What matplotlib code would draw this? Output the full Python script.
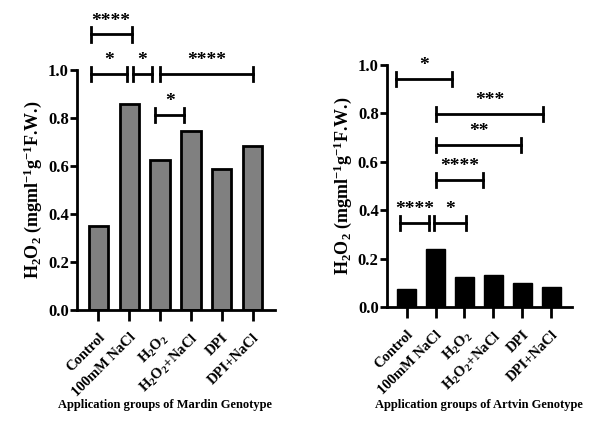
import matplotlib
matplotlib.use('Agg')
import matplotlib.pyplot as plt

plt.rcParams['font.family'] = ['Liberation Serif', 'DejaVu Serif']
plt.rcParams['font.weight'] = 'bold'
plt.rcParams['mathtext.fontset'] = 'custom'
plt.rcParams['mathtext.rm'] = 'Liberation Serif:bold'
plt.rcParams['mathtext.bf'] = 'Liberation Serif:bold'
plt.rcParams['mathtext.it'] = 'Liberation Serif:bold'

# Data
groups = ['Control', '100mM NaCl', r'H$_2$O$_2$', r'H$_2$O$_2$+NaCl', 'DPI', 'DPI+NaCl']
mardin = [0.35, 0.858, 0.625, 0.747, 0.586, 0.685]
artvin = [0.074, 0.240, 0.126, 0.132, 0.100, 0.083]

# significance brackets: (x start, x end, height, label)
mardin_sig = [(-0.24, 1.08, 1.149, '****'),
              (-0.24, 0.93, 0.983, '*'),
              (1.14, 1.73, 0.983, '*'),
              (2.0, 5.01, 0.983, '****'),
              (1.84, 2.78, 0.8125, '*')]
artvin_sig = [(-0.37, 1.58, 0.941, '*'),
              (1.02, 4.72, 0.798, '***'),
              (1.02, 3.96, 0.67, '**'),
              (1.02, 2.64, 0.525, '****'),
              (-0.23, 0.78, 0.347, '****'),
              (0.96, 2.06, 0.347, '*')]

ylabel = r'$\mathbf{H_2O_2}$ (mgml$^{-1}$g$^{-1}$F.W.)'

fig = plt.figure(figsize=(5.89, 4.30), dpi=100)
ax1 = fig.add_axes([0.131, 0.279, 0.336, 0.558])
ax2 = fig.add_axes([0.657, 0.2854, 0.314, 0.5636])


def style_axis(ax):
    ax.set_xlim(-0.68, 5.72)
    ax.set_ylim(0, 1.0)
    ax.set_yticks([0, 0.2, 0.4, 0.6, 0.8, 1.0])
    ax.set_yticklabels(['0.0', '0.2', '0.4', '0.6', '0.8', '1.0'])
    ax.set_xticks(range(len(groups)))
    ax.set_xticklabels(groups, rotation=45, ha='right', rotation_mode='anchor')
    for s in ['top', 'right']:
        ax.spines[s].set_visible(False)
    for s in ['left', 'bottom']:
        ax.spines[s].set_linewidth(2)
    ax.tick_params(axis='y', length=5, width=2, labelsize=12, pad=1)
    ax.tick_params(axis='x', length=8, width=2, labelsize=10.5, pad=7)
    ax.set_ylabel(ylabel, fontsize=13, fontweight='bold', labelpad=3)


def brackets(ax, sig):
    for x0, x1, h, lab in sig:
        ax.plot([x0, x1], [h, h], color='black', lw=2, clip_on=False)
        ax.plot([x0, x0], [h - 0.03, h + 0.03], color='black', lw=2, clip_on=False)
        ax.plot([x1, x1], [h - 0.03, h + 0.03], color='black', lw=2, clip_on=False)
        ax.text((x0 + x1) / 2, h + 0.02, lab, ha='center', va='bottom',
                fontsize=14, fontweight='bold', clip_on=False)


x = range(len(groups))
ax1.bar(x, mardin, width=0.62, color='#808080', edgecolor='black', linewidth=2)
style_axis(ax1)
brackets(ax1, mardin_sig)

ax2.bar(x, artvin, width=0.65, color='black', edgecolor='black', linewidth=1)
style_axis(ax2)
brackets(ax2, artvin_sig)

fig.text(0.28, 0.058, 'Application groups of Mardin Genotype', ha='center', va='center',
         fontsize=9, fontweight='bold')
fig.text(0.813, 0.058, 'Application groups of Artvin Genotype', ha='center', va='center',
         fontsize=9, fontweight='bold')

plt.savefig('out.png', dpi=100)
